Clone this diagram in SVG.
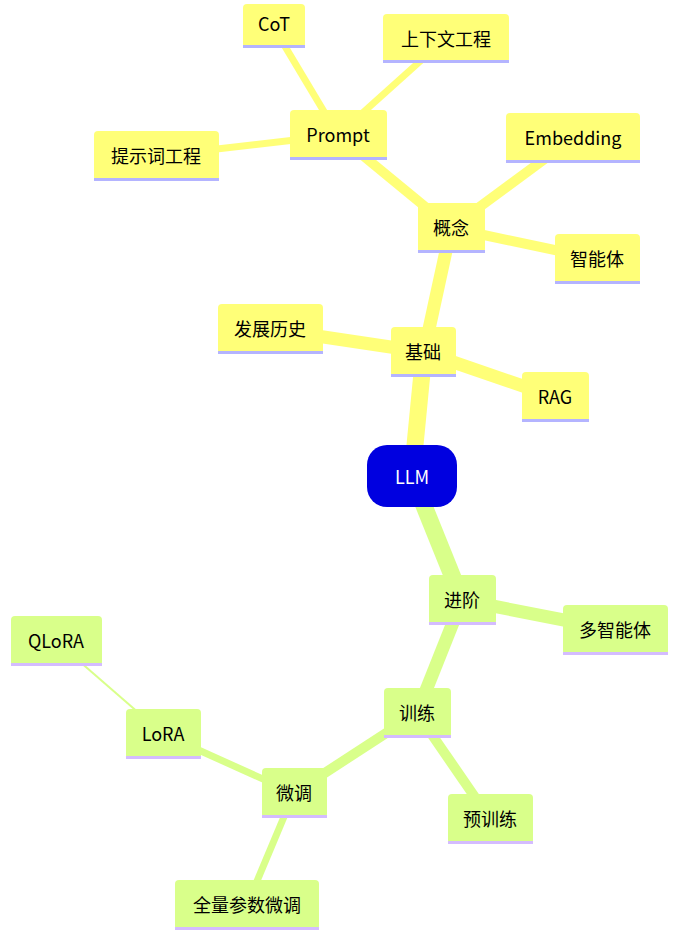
<svg xmlns="http://www.w3.org/2000/svg" width="676" height="946" viewBox="0 0 676 946">
<style>
text{font-family:"Noto Sans CJK SC","Noto Sans",sans-serif;font-size:18px;text-anchor:middle;dominant-baseline:central;fill:#000}
.y rect.b{fill:#ffff78}.y rect.u{fill:#b4b4ff}
.g rect.b{fill:#d9ff8a}.g rect.u{fill:#d4bcff}
.ey{stroke:#ffff78;stroke-linecap:butt;fill:none}
.eg{stroke:#d9ff8a;stroke-linecap:butt;fill:none}
</style>
<rect width="676" height="946" fill="#fff"/>
<g id="connectors">
<line class="ey" x1="412" y1="476" x2="424" y2="352" stroke-width="17"/>
<line class="ey" x1="424" y1="352" x2="451" y2="228" stroke-width="13"/>
<line class="ey" x1="424" y1="352" x2="270" y2="329" stroke-width="13"/>
<line class="ey" x1="424" y1="352" x2="555" y2="397" stroke-width="13"/>
<line class="ey" x1="451" y1="228" x2="338" y2="135" stroke-width="10"/>
<line class="ey" x1="451" y1="228" x2="573" y2="138" stroke-width="10"/>
<line class="ey" x1="451" y1="228" x2="597" y2="259" stroke-width="10"/>
<line class="ey" x1="338" y1="135" x2="274" y2="28" stroke-width="7"/>
<line class="ey" x1="338" y1="135" x2="446" y2="38" stroke-width="7"/>
<line class="ey" x1="338" y1="135" x2="156" y2="156" stroke-width="7"/>
<line class="eg" x1="412" y1="476" x2="462" y2="600" stroke-width="17"/>
<line class="eg" x1="462" y1="600" x2="615" y2="630" stroke-width="13"/>
<line class="eg" x1="462" y1="600" x2="417" y2="713" stroke-width="13"/>
<line class="eg" x1="417" y1="713" x2="490" y2="819" stroke-width="10"/>
<line class="eg" x1="417" y1="713" x2="294" y2="793" stroke-width="10"/>
<line class="eg" x1="294" y1="793" x2="163" y2="734" stroke-width="7"/>
<line class="eg" x1="294" y1="793" x2="247" y2="905" stroke-width="7"/>
<line class="eg" x1="163" y1="734" x2="56" y2="641" stroke-width="2"/>
</g>
<g id="LLM"><rect x="367" y="445" width="90" height="62" rx="20" fill="#0000e0"/><text x="412" y="476" style="fill:#fff">LLM</text></g>
<g id="jichu" class="y"><rect class="b" x="391" y="327" width="65" height="50" rx="4"/><rect class="u" x="391" y="374" width="65" height="3"/><text x="423" y="351">基础</text></g>
<g id="gainian" class="y"><rect class="b" x="418" y="203" width="67" height="50" rx="4"/><rect class="u" x="418" y="250" width="67" height="3"/><text x="451" y="227">概念</text></g>
<g id="prompt" class="y"><rect class="b" x="290" y="110" width="97" height="50" rx="4"/><rect class="u" x="290" y="157" width="97" height="3"/><text x="338" y="134">Prompt</text></g>
<g id="cot" class="y"><rect class="b" x="243" y="4" width="62" height="44" rx="4"/><rect class="u" x="243" y="45" width="62" height="3"/><text x="274" y="23">CoT</text></g>
<g id="context" class="y"><rect class="b" x="383" y="14" width="126" height="49" rx="4"/><rect class="u" x="383" y="60" width="126" height="3"/><text x="446" y="38">上下文工程</text></g>
<g id="tishici" class="y"><rect class="b" x="94" y="131" width="125" height="50" rx="4"/><rect class="u" x="94" y="178" width="125" height="3"/><text x="156" y="155">提示词工程</text></g>
<g id="embedding" class="y"><rect class="b" x="506" y="113" width="134" height="50" rx="4"/><rect class="u" x="506" y="160" width="134" height="3"/><text x="573" y="137">Embedding</text></g>
<g id="agent" class="y"><rect class="b" x="555" y="234" width="85" height="50" rx="4"/><rect class="u" x="555" y="281" width="85" height="3"/><text x="597" y="258">智能体</text></g>
<g id="history" class="y"><rect class="b" x="218" y="304" width="105" height="50" rx="4"/><rect class="u" x="218" y="351" width="105" height="3"/><text x="270" y="328">发展历史</text></g>
<g id="rag" class="y"><rect class="b" x="522" y="372" width="67" height="50" rx="4"/><rect class="u" x="522" y="419" width="67" height="3"/><text x="555" y="396">RAG</text></g>
<g id="jinjie" class="g"><rect class="b" x="429" y="575" width="67" height="50" rx="4"/><rect class="u" x="429" y="622" width="67" height="3"/><text x="462" y="599">进阶</text></g>
<g id="multi" class="g"><rect class="b" x="563" y="605" width="105" height="50" rx="4"/><rect class="u" x="563" y="652" width="105" height="3"/><text x="615" y="629">多智能体</text></g>
<g id="train" class="g"><rect class="b" x="384" y="688" width="67" height="50" rx="4"/><rect class="u" x="384" y="735" width="67" height="3"/><text x="417" y="712">训练</text></g>
<g id="pretrain" class="g"><rect class="b" x="448" y="794" width="85" height="50" rx="4"/><rect class="u" x="448" y="841" width="85" height="3"/><text x="490" y="818">预训练</text></g>
<g id="finetune" class="g"><rect class="b" x="262" y="768" width="65" height="50" rx="4"/><rect class="u" x="262" y="815" width="65" height="3"/><text x="294" y="792">微调</text></g>
<g id="lora" class="g"><rect class="b" x="126" y="709" width="75" height="50" rx="4"/><rect class="u" x="126" y="756" width="75" height="3"/><text x="163" y="733">LoRA</text></g>
<g id="qlora" class="g"><rect class="b" x="11" y="616" width="91" height="50" rx="4"/><rect class="u" x="11" y="663" width="91" height="3"/><text x="56" y="640">QLoRA</text></g>
<g id="full" class="g"><rect class="b" x="175" y="880" width="144" height="50" rx="4"/><rect class="u" x="175" y="927" width="144" height="3"/><text x="247" y="904">全量参数微调</text></g>
</svg>
